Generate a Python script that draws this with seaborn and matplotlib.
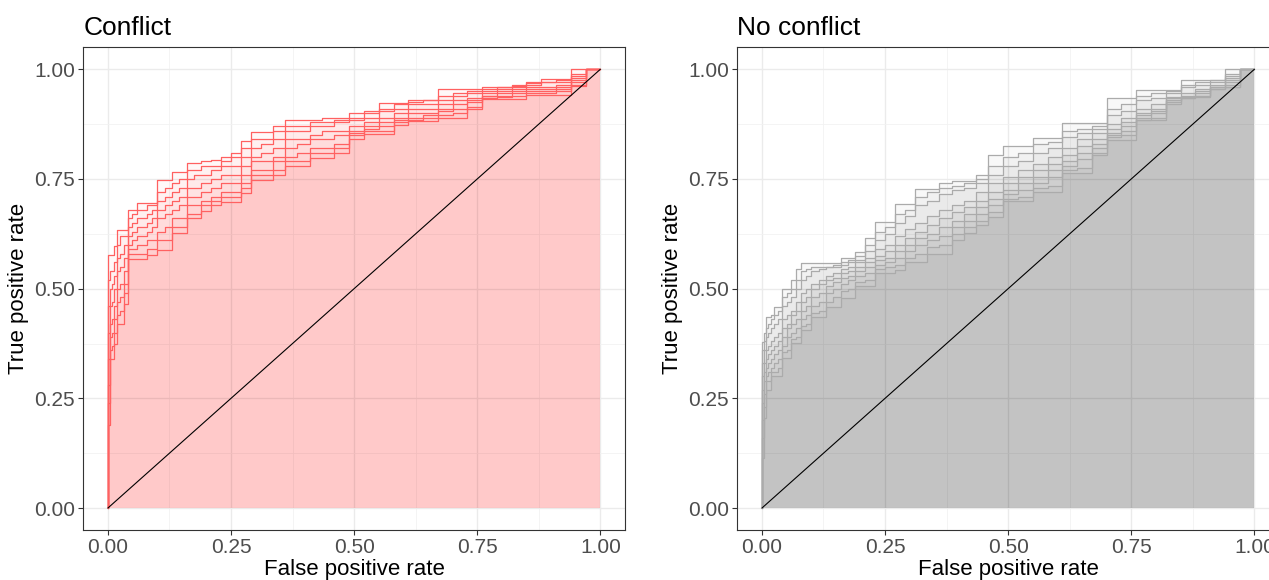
import numpy as np
import pandas as pd
import matplotlib
matplotlib.use("Agg")
import matplotlib.pyplot as plt
import seaborn as sns

# shared false-positive-rate grid; each tpr value holds on the interval ending at that fpr
fpr = [0, .004, .008, .012, .018, .025, .032, .04, .05, .06, .07, .08, .09, .10,
       .115, .13, .145, .16, .175, .19, .21, .23, .25, .27, .29, .31, .335, .36,
       .385, .41, .435, .46, .49, .52, .55, .58, .61, .64, .67, .70, .73, .76,
       .79, .82, .85, .88, .91, .94, .97, 1.0]

# Conflict: resampled ROC curves (tpr)
conflict_runs = [
    [0, .576, .576, .576, .597, .634, .634, .634, .68, .68, .695, .695, .695, .695,
     .748, .748, .765, .765, .786, .786, .79, .794, .80, .81, .836, .857, .857, .87,
     .885, .885, .885, .89, .89, .90, .905, .924, .924, .93, .93, .954, .954, .954,
     .96, .96, .965, .97, .977, .977, 1.0, 1.0],
    [0, .52, .54, .54, .56, .60, .62, .62, .66, .67, .68, .68, .69, .69,
     .72, .73, .74, .75, .77, .77, .78, .78, .79, .80, .82, .84, .84, .86,
     .87, .87, .88, .88, .885, .89, .90, .91, .92, .925, .93, .94, .945, .95,
     .955, .96, .962, .968, .972, .975, .99, 1.0],
    [0, .46, .50, .51, .53, .57, .58, .60, .64, .65, .66, .66, .67, .68,
     .70, .71, .72, .73, .75, .76, .76, .77, .78, .78, .80, .82, .83, .84,
     .86, .86, .87, .87, .88, .885, .89, .905, .91, .92, .92, .93, .94, .945,
     .95, .955, .96, .965, .97, .97, .985, 1.0],
    [0, .40, .46, .47, .50, .54, .55, .57, .62, .63, .64, .64, .65, .66,
     .68, .69, .70, .71, .73, .73, .74, .75, .76, .76, .78, .80, .81, .82,
     .84, .84, .85, .86, .86, .87, .88, .89, .90, .91, .91, .92, .93, .935,
     .945, .95, .955, .96, .96, .965, .98, 1.0],
    [0, .34, .42, .43, .46, .50, .51, .54, .60, .61, .62, .62, .63, .64,
     .66, .67, .68, .69, .71, .71, .72, .73, .74, .74, .76, .79, .79, .80,
     .82, .83, .84, .84, .85, .86, .87, .88, .89, .90, .90, .91, .92, .93,
     .94, .945, .95, .955, .955, .96, .975, 1.0],
    [0, .28, .39, .40, .43, .47, .48, .51, .59, .59, .60, .60, .61, .61,
     .63, .64, .66, .66, .69, .69, .70, .71, .72, .72, .74, .77, .77, .79,
     .80, .81, .82, .82, .83, .855, .865, .87, .885, .89, .895, .905, .91, .925,
     .94, .94, .945, .95, .95, .955, .97, 1.0],
    [0, .24, .36, .37, .40, .44, .45, .49, .58, .58, .58, .58, .59, .59,
     .61, .61, .64, .64, .67, .67, .69, .70, .71, .71, .73, .76, .76, .77,
     .79, .79, .81, .81, .82, .85, .86, .86, .88, .885, .89, .895, .90, .915,
     .935, .937, .94, .945, .945, .95, .965, 1.0],
    [0, .19, .34, .34, .374, .42, .42, .466, .567, .567, .567, .567, .576, .576,
     .588, .588, .626, .626, .66, .66, .676, .69, .697, .697, .718, .748, .748, .76,
     .78, .78, .798, .798, .81, .84, .853, .853, .874, .882, .882, .89, .89, .91,
     .933, .933, .933, .941, .941, .941, .962, 1.0],
]

# No conflict: resampled ROC curves (tpr)
no_conflict_runs = [
    [0, .379, .40, .436, .436, .44, .459, .459, .50, .50, .52, .545, .558, .558,
     .558, .558, .558, .558, .569, .569, .584, .615, .652, .652, .694, .694, .728, .728,
     .74, .745, .745, .759, .804, .825, .825, .843, .843, .877, .877, .877, .934, .934,
     .952, .952, .952, .975, .975, .975, 1.0, 1.0],
    [0, .36, .38, .41, .42, .43, .44, .45, .48, .49, .50, .52, .54, .545,
     .55, .55, .55, .555, .56, .565, .575, .60, .63, .64, .67, .68, .71, .72,
     .73, .735, .74, .75, .78, .80, .81, .83, .835, .86, .865, .87, .91, .92,
     .94, .945, .95, .965, .97, .975, .99, 1.0],
    [0, .33, .36, .39, .40, .41, .42, .43, .46, .47, .48, .50, .52, .53,
     .54, .545, .55, .55, .555, .56, .565, .585, .61, .625, .65, .665, .69, .70,
     .715, .725, .73, .74, .76, .78, .79, .81, .82, .845, .855, .865, .895, .905,
     .93, .935, .945, .96, .965, .97, .985, 1.0],
    [0, .30, .33, .36, .37, .38, .39, .40, .43, .44, .45, .47, .49, .50,
     .51, .52, .53, .535, .545, .55, .56, .57, .59, .60, .62, .635, .65, .665,
     .68, .69, .70, .72, .74, .755, .77, .785, .80, .82, .84, .855, .875, .89,
     .91, .92, .93, .945, .955, .965, .98, 1.0],
    [0, .27, .31, .34, .35, .36, .37, .38, .41, .42, .44, .45, .47, .48,
     .50, .51, .52, .525, .535, .54, .55, .56, .575, .585, .60, .615, .63, .645,
     .66, .675, .685, .70, .72, .74, .755, .77, .785, .805, .825, .84, .865, .88,
     .90, .91, .925, .94, .95, .96, .975, 1.0],
    [0, .24, .29, .32, .33, .34, .35, .36, .39, .41, .42, .43, .45, .46,
     .48, .49, .505, .515, .525, .53, .54, .55, .565, .57, .585, .60, .615, .625,
     .64, .655, .67, .685, .705, .725, .74, .755, .77, .79, .81, .83, .855, .87,
     .895, .905, .92, .935, .945, .955, .97, 1.0],
    [0, .20, .26, .30, .31, .32, .33, .34, .37, .39, .40, .41, .43, .44,
     .46, .47, .49, .50, .51, .52, .53, .535, .555, .56, .57, .585, .60, .61,
     .62, .64, .655, .67, .69, .715, .725, .74, .755, .78, .795, .82, .85, .86,
     .89, .90, .93, .935, .94, .955, .965, 1.0],
    [0, .16, .23, .29, .29, .31, .31, .32, .355, .36, .385, .39, .415, .42,
     .445, .45, .47, .48, .495, .50, .515, .52, .545, .55, .555, .57, .58, .595,
     .60, .625, .64, .655, .675, .705, .71, .73, .735, .77, .775, .81, .845, .85,
     .885, .89, .935, .937, .94, .96, .96, 1.0],
    [0, .114, .205, .27, .27, .30, .30, .30, .342, .342, .376, .376, .406, .406,
     .436, .436, .459, .459, .479, .479, .505, .505, .535, .535, .542, .561, .561, .58,
     .58, .61, .627, .645, .664, .70, .70, .72, .72, .763, .763, .804, .838, .838,
     .884, .884, .937, .937, .937, .96, .96, 1.0],
]

ticks = [0, 0.25, 0.5, 0.75, 1.0]
tick_labels = ["0.00", "0.25", "0.50", "0.75", "1.00"]


def to_long(runs):
    rows = []
    for i, r in enumerate(runs):
        for x, y in zip(fpr, r):
            rows.append((i, x, y))
    return pd.DataFrame(rows, columns=["run", "fpr", "tpr"])


sns.set_style("white")
plt.rcParams["font.family"] = ["Liberation Sans", "DejaVu Sans"]

fig = plt.figure(figsize=(12.69, 5.8), dpi=100)
ax1 = fig.add_axes([0.0656, 0.0862, 0.4269, 0.8322])
ax2 = fig.add_axes([0.581, 0.0862, 0.4269, 0.8322])


def roc_panel(ax, runs, line_col, fill_col, fill_alpha, title):
    df = to_long(runs)
    for i, g in df.groupby("run"):
        ax.fill_between(g["fpr"], g["tpr"], step="pre", color=fill_col,
                        alpha=fill_alpha, lw=0, zorder=1)
    sns.lineplot(data=df, x="fpr", y="tpr", units="run", estimator=None, sort=False,
                 drawstyle="steps-pre", color=line_col, lw=0.9,
                 ax=ax, legend=False, zorder=3)
    ax.plot([0, 1], [0, 1], color="black", lw=0.8, zorder=4)
    ax.set_xlim(-0.05, 1.05)
    ax.set_ylim(-0.05, 1.05)
    ax.set_xticks(ticks)
    ax.set_xticklabels(tick_labels)
    ax.set_yticks(ticks)
    ax.set_yticklabels(tick_labels)
    ax.set_xticks([0.125, 0.375, 0.625, 0.875], minor=True)
    ax.set_yticks([0.125, 0.375, 0.625, 0.875], minor=True)
    ax.grid(which="major", color="#EBEBEB", lw=1.0, zorder=0)
    ax.grid(which="minor", color="#F2F2F2", lw=0.6, zorder=0)
    ax.set_axisbelow(True)
    ax.tick_params(which="major", direction="out", length=3.5, width=0.8, color="#333333",
                   labelsize=15, labelcolor="#4D4D4D", pad=2.5, bottom=True, left=True)
    ax.tick_params(which="minor", length=0)
    for s in ax.spines.values():
        s.set_color("#333333")
        s.set_linewidth(0.8)
    ax.set_xlabel("False positive rate", fontsize=16, labelpad=1.5, color="black")
    ax.set_ylabel("True positive rate", fontsize=16, labelpad=3.5, color="black")
    ax.set_title(title, loc="left", fontsize=19, pad=9, color="black")


roc_panel(ax1, conflict_runs, "#FF6161", "#FF0000", 0.0275, "Conflict")
roc_panel(ax2, no_conflict_runs, "#ABABAB", "#000000", 0.0285, "No conflict")

fig.savefig("out.png", dpi=100)
